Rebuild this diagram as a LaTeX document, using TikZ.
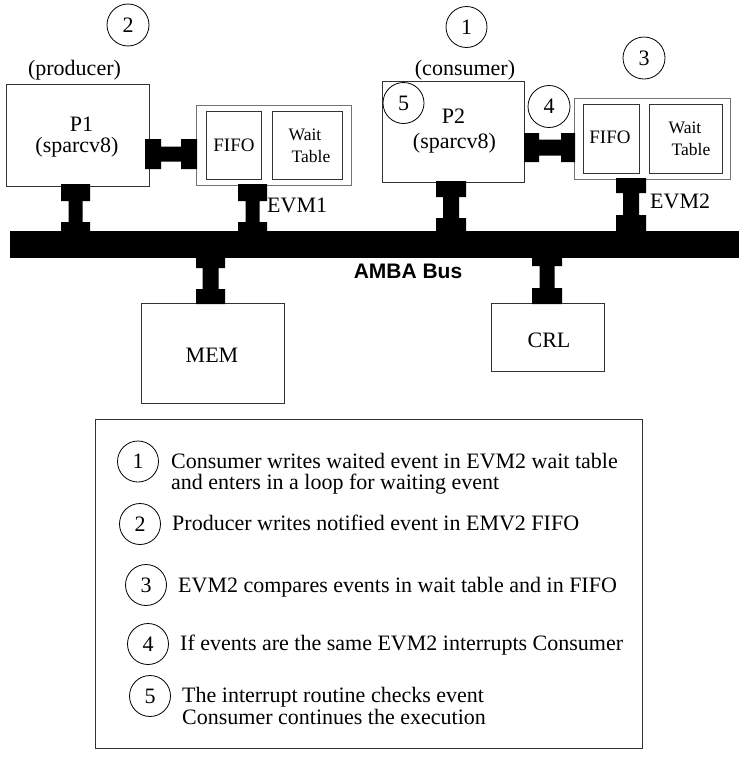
\documentclass[tikz,border=0pt]{standalone}
\usepackage{fontspec}
\setmainfont{Liberation Serif}
\newfontfamily\busfont{Liberation Sans}

% vertical I-beam link: centre x, block half width, middle half width, then four y levels
\newcommand\vbeam[7]{%
  \fill ({#1-#2},#4) -- ({#1+#2},#4) -- ({#1+#2},#5) -- ({#1+#3},#5) -- ({#1+#3},#6)
    -- ({#1+#2},#6) -- ({#1+#2},#7) -- ({#1-#2},#7) -- ({#1-#2},#6) -- ({#1-#3},#6)
    -- ({#1-#3},#5) -- ({#1-#2},#5) -- cycle;}
% horizontal I-beam link: centre y, block half height, middle half height, four x levels
\newcommand\hbeam[7]{%
  \fill (#4,{#1-#2}) -- (#4,{#1+#2}) -- (#5,{#1+#2}) -- (#5,{#1+#3}) -- (#6,{#1+#3})
    -- (#6,{#1+#2}) -- (#7,{#1+#2}) -- (#7,{#1-#2}) -- (#6,{#1-#2}) -- (#6,{#1-#3})
    -- (#5,{#1-#3}) -- (#5,{#1-#2}) -- cycle;}

\begin{document}
\begin{tikzpicture}[x=1pt,y=-1pt,
  box/.style={draw=black!80, line width=0.9pt, inner sep=0pt, outer sep=0pt, anchor=north west},
  evmbox/.style={box, draw=black!55},
  lbl/.style={font=\fontsize{22}{21}\selectfont, inner sep=0pt, anchor=base},
  fifolbl/.style={font=\fontsize{19}{19}\selectfont, inner sep=0pt, anchor=base},
  tablbl/.style={font=\fontsize{17.5}{18}\selectfont, inner sep=0pt, anchor=base},
  legtext/.style={font=\fontsize{22}{21}\selectfont, inner sep=0pt, anchor=base west},
  stepnum/.style={draw=black, line width=0.8pt, circle, inner sep=0pt,
    minimum size=41, font=\fontsize{22}{22}\selectfont}]

\useasboundingbox (0,0) rectangle (739,758);

% ---- blocks ----
\node[box, minimum width=143, minimum height=102] (P1) at (6,84) {};
\node[evmbox, minimum width=155, minimum height=80] (EVM1) at (196,105) {};
\node[box, minimum width=55, minimum height=68] (fifo1) at (206,111) {};
\node[box, minimum width=70, minimum height=68] (wt1) at (272,111) {};

\node[box, minimum width=142, minimum height=101] (P2) at (382,81) {};
\node[evmbox, minimum width=156, minimum height=81] (EVM2) at (574,98) {};
\node[box, minimum width=56, minimum height=69] (fifo2) at (583,104) {};
\node[box, minimum width=73, minimum height=69] (wt2) at (649,104) {};

\node[box, minimum width=143, minimum height=100] (MEM) at (141,303) {};
\node[box, minimum width=113, minimum height=68] (CRL) at (491,303) {};

\node[box, minimum width=547, minimum height=329] (legend) at (95,419) {};

% ---- AMBA bus ----
\node[fill=black, draw=none, inner sep=0pt, outer sep=0pt, anchor=north west,
      minimum width=731, minimum height=27] (bus) at (10,231) {};

% ---- links to the bus ----
\vbeam{75.5}{14.5}{7}{184}{201}{222}{232}
\vbeam{252.5}{14.5}{7}{184}{201}{222}{232}
\vbeam{451}{15}{8}{181}{197}{218}{232}
\vbeam{631}{15}{8}{178}{193}{215}{232}
\vbeam{210.5}{14.5}{8}{257}{268}{289}{304}
\vbeam{547}{15}{7.5}{257}{266}{288}{304}

% ---- processor to event manager links ----
\hbeam{154}{15}{7.5}{145}{161}{181}{197}
\hbeam{147.5}{14.5}{8}{524}{539}{561}{575}

% ---- labels ----
\node[lbl] (prodlbl) at (74.5,75) {(producer)};
\node[lbl] (p1name) at (81.5,131) {P1};
\node[lbl] (p1cpu) at (77,152) {(sparcv8)};
\node[lbl] (conslbl) at (465,75) {(consumer)};
\node[lbl] (p2name) at (453.5,123) {P2};
\node[lbl] (p2cpu) at (454.5,148) {(sparcv8)};

\node[fifolbl] (fifo1lbl) at (234,151) {FIFO};
\node[tablbl] (wt1a) at (305,140) {Wait};
\node[tablbl] (wt1b) at (311,162) {Table};
\node[fifolbl] (fifo2lbl) at (610,143) {FIFO};
\node[tablbl] (wt2a) at (685,133) {Wait};
\node[tablbl] (wt2b) at (691,155) {Table};

\node[lbl, anchor=base west] (evm1lbl) at (267,212) {EVM1};
\node[lbl, anchor=base west] (evm2lbl) at (650,208) {EVM2};
\node[lbl, font=\busfont\bfseries\fontsize{21}{21}\selectfont] (buslbl) at (408,278) {AMBA Bus};
\node[lbl] (memlbl) at (212,362) {MEM};
\node[lbl] (crllbl) at (549,347) {CRL};

% ---- step markers on the architecture ----
\node[stepnum, minimum size=42] (s2) at (128,25) {2};
\node[stepnum] (s1) at (466.5,27) {1};
\node[stepnum, minimum size=42] (s3) at (644,58) {3};
\node[stepnum] (s5) at (403.5,103) {5};
\node[stepnum, minimum size=42] (s4) at (549,106.5) {4};

% ---- legend ----
\node[stepnum] (l1) at (138,461.5) {1};
\node[stepnum] (l2) at (140,524) {2};
\node[stepnum] (l3) at (146,585) {3};
\node[stepnum] (l4) at (148,644) {4};
\node[stepnum] (l5) at (150,696) {5};

\node[legtext] (t1a) at (171,468) {Consumer writes waited event in EVM2 wait table};
\node[legtext] (t1b) at (171,489) {and enters in a loop for waiting event};
\node[legtext] (t2) at (172,530) {Producer writes notified event in EMV2 FIFO};
\node[legtext] (t3) at (178,592) {EVM2 compares events in wait table and in FIFO};
\node[legtext] (t4) at (180,650) {If events are the same EVM2 interrupts Consumer};
\node[legtext] (t5a) at (182,702) {The interrupt routine checks event};
\node[legtext] (t5b) at (182,724) {Consumer continues the execution};

\end{tikzpicture}
\end{document}
